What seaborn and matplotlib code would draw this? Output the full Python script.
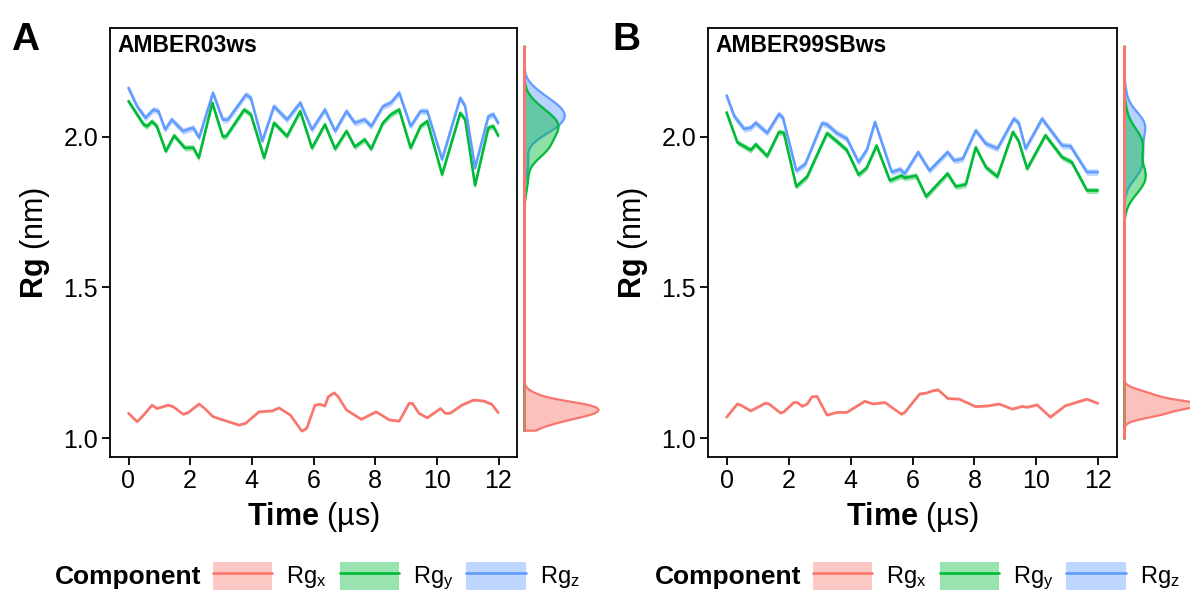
import numpy as np
import pandas as pd
import matplotlib
matplotlib.use("Agg")
import matplotlib.pyplot as plt
import seaborn as sns
from matplotlib.patches import Patch
from matplotlib.lines import Line2D

# ---------------- data ----------------
components = ["Rg$_\\mathregular{x}$", "Rg$_\\mathregular{y}$", "Rg$_\\mathregular{z}$"]
panel_titles = ["AMBER03ws", "AMBER99SBws"]
panel_letters = ["A", "B"]
x_ticks = [0, 2, 4, 6, 8, 10, 12]
y_ticks = [1.0, 1.5, 2.0]

# Panel A (AMBER03ws)
tA_x = [0, 0.28, 0.49, 0.76, 0.92, 1.29, 1.45, 1.77, 1.93, 2.29, 2.47, 2.74, 3.06, 3.59, 3.80,
        4.23, 4.66, 4.88, 5.25, 5.62, 5.78, 6.05, 6.21, 6.37, 6.48, 6.67, 6.80, 7.07, 7.55, 8.03,
        8.46, 8.78, 9.10, 9.21, 9.42, 9.69, 10.12, 10.27, 10.43, 10.81, 11.19, 11.51, 11.78, 11.99]
vA_x = [1.082, 1.054, 1.076, 1.109, 1.098, 1.109, 1.104, 1.079, 1.084, 1.113, 1.098, 1.071, 1.060,
        1.043, 1.049, 1.087, 1.090, 1.100, 1.076, 1.023, 1.032, 1.109, 1.112, 1.106, 1.137, 1.150,
        1.137, 1.093, 1.062, 1.087, 1.060, 1.056, 1.115, 1.115, 1.082, 1.067, 1.098, 1.082, 1.082,
        1.109, 1.126, 1.123, 1.112, 1.084]
tA_y = [0, 0.49, 0.60, 0.76, 0.92, 1.21, 1.48, 1.83, 2.10, 2.28, 2.72, 3.06, 3.17, 3.75, 3.97,
        4.40, 4.72, 5.14, 5.57, 5.95, 6.37, 6.70, 7.07, 7.34, 7.66, 7.87, 8.25, 8.51, 8.78, 9.15,
        9.47, 9.69, 10.17, 10.76, 10.92, 11.24, 11.67, 11.83, 11.99]
vA_y = [2.117, 2.040, 2.034, 2.050, 2.034, 1.951, 2.003, 1.962, 1.963, 1.929, 2.112, 1.999, 2.001,
        2.089, 2.073, 1.929, 2.045, 2.001, 2.084, 1.962, 2.040, 1.959, 2.018, 1.966, 1.990, 1.959,
        2.045, 2.073, 2.089, 1.962, 2.034, 2.051, 1.874, 2.078, 2.056, 1.838, 2.029, 2.034, 2.003]
tA_z = [0, 0.28, 0.55, 0.81, 0.97, 1.19, 1.40, 1.77, 2.10, 2.29, 2.74, 3.06, 3.22, 3.81, 3.97,
        4.34, 4.72, 5.14, 5.57, 5.95, 6.37, 6.70, 7.07, 7.34, 7.66, 7.87, 8.25, 8.51, 8.78, 9.15,
        9.47, 9.69, 10.17, 10.76, 10.92, 11.24, 11.67, 11.83, 11.99]
vA_z = [2.161, 2.100, 2.062, 2.089, 2.084, 2.023, 2.056, 2.018, 2.029, 1.996, 2.145, 2.056, 2.056,
        2.139, 2.128, 1.985, 2.100, 2.056, 2.112, 2.023, 2.089, 2.018, 2.084, 2.045, 2.056, 2.034,
        2.100, 2.112, 2.145, 2.034, 2.084, 2.084, 1.924, 2.128, 2.100, 1.896, 2.067, 2.073, 2.045]

# Panel B (AMBER99SBws)
tB_x = [0, 0.35, 0.46, 0.78, 1.26, 1.37, 1.74, 1.85, 2.17, 2.28, 2.44, 2.60, 2.76, 2.92, 3.24,
        3.56, 3.88, 4.46, 4.73, 5.11, 5.64, 5.75, 6.23, 6.44, 6.66, 6.82, 6.98, 7.14, 7.51, 8.04,
        8.47, 8.79, 9.22, 9.54, 9.70, 10.02, 10.45, 10.93, 11.63, 11.98]
vB_x = [1.069, 1.113, 1.109, 1.090, 1.116, 1.113, 1.083, 1.087, 1.118, 1.118, 1.105, 1.113, 1.137,
        1.138, 1.076, 1.085, 1.085, 1.122, 1.113, 1.118, 1.079, 1.085, 1.146, 1.149, 1.157, 1.160,
        1.146, 1.131, 1.129, 1.104, 1.107, 1.113, 1.096, 1.105, 1.102, 1.110, 1.069, 1.107, 1.129,
        1.115]
tB_y = [0, 0.35, 0.78, 0.94, 1.31, 1.69, 1.85, 2.25, 2.60, 3.24, 3.56, 3.88, 4.26, 4.52, 4.84,
        5.27, 5.64, 5.75, 6.12, 6.44, 7.13, 7.40, 7.72, 8.04, 8.37, 8.74, 9.24, 9.43, 9.70, 10.29,
        10.83, 11.14, 11.63, 11.98]
vB_y = [2.080, 1.980, 1.955, 1.974, 1.935, 2.015, 2.012, 1.834, 1.867, 2.011, 1.984, 1.955, 1.873,
        1.896, 1.970, 1.854, 1.870, 1.863, 1.870, 1.801, 1.877, 1.834, 1.841, 1.964, 1.898, 1.867,
        2.015, 1.984, 1.893, 2.004, 1.931, 1.915, 1.821, 1.821]
tB_z = [0, 0.25, 0.57, 0.78, 0.94, 1.31, 1.69, 1.82, 2.25, 2.54, 3.08, 3.24, 3.56, 3.88, 4.26,
        4.53, 4.79, 5.33, 5.60, 5.75, 6.18, 6.55, 7.13, 7.35, 7.62, 8.04, 8.37, 8.74, 9.27, 9.43,
        9.65, 10.18, 10.83, 11.10, 11.63, 11.98]
vB_z = [2.136, 2.067, 2.025, 2.029, 2.045, 2.012, 2.075, 2.062, 1.887, 1.909, 2.044, 2.040, 2.011,
        1.993, 1.915, 1.957, 2.048, 1.882, 1.891, 1.877, 1.948, 1.887, 1.948, 1.920, 1.926, 2.020,
        1.976, 1.960, 2.059, 2.045, 1.960, 2.059, 1.970, 1.968, 1.882, 1.882]

# ribbon half-widths (confidence band) per component
ribbon_half = [0.004, 0.010, 0.011]
# range of the marginal density support per panel
density_range = [(1.026, 2.30), (1.0, 2.30)]

colors = ["#F8766D", "#00BA38", "#619CFF"]

panels = [
    [(tA_x, vA_x), (tA_y, vA_y), (tA_z, vA_z)],
    [(tB_x, vB_x), (tB_y, vB_y), (tB_z, vB_z)],
]

# ---------------- style ----------------
sns.set_theme(style="white")
plt.rcParams["font.family"] = ["Liberation Sans", "DejaVu Sans"]
plt.rcParams["mathtext.fontset"] = "custom"
plt.rcParams["mathtext.rm"] = "Liberation Sans"
plt.rcParams["mathtext.bf"] = "Liberation Sans:bold"
plt.rcParams["mathtext.it"] = "Liberation Sans:italic"
plt.rcParams["text.color"] = "black"
plt.rcParams["axes.labelcolor"] = "black"

W, H = 1190, 594
fig = plt.figure(figsize=(W / 100, H / 100), dpi=100)

def fr(x0, y_top, w, h):
    return [x0 / W, 1 - (y_top + h) / H, w / W, h / H]

main_rects = [fr(110, 28, 407, 429), fr(708, 28, 409, 429)]
marg_rects = [fr(519, 28, 80, 429), fr(1119, 28, 71, 429)]
marg_peak_px = [(5, 74), (5, 76)]  # baseline offset, peak extent in px
marg_width_px = [80, 71]
ylim = (0.937, 2.36)
xlim = (-0.6, 12.6)

for p in range(2):
    ax = fig.add_axes(main_rects[p])
    rows = []
    for ci, (t, v) in enumerate(panels[p]):
        df = pd.DataFrame({"Time": t, "Rg": v, "Component": components[ci]})
        rows.append(df)
        ax.fill_between(df["Time"], df["Rg"] - ribbon_half[ci], df["Rg"] + ribbon_half[ci],
                        color=colors[ci], alpha=0.4, linewidth=0)
    data = pd.concat(rows, ignore_index=True)
    sns.lineplot(data=data, x="Time", y="Rg", hue="Component", hue_order=components,
                 palette=colors, linewidth=1.9, legend=False, ax=ax, sort=True,
                 estimator=None)
    ax.set_xlim(*xlim)
    ax.set_ylim(*ylim)
    ax.set_xticks(x_ticks)
    ax.set_yticks(y_ticks)
    ax.set_xticklabels([str(x) for x in x_ticks])
    ax.set_yticklabels([f"{y:.1f}" for y in y_ticks])
    for s in ax.spines.values():
        s.set_visible(True)
        s.set_color("black")
        s.set_linewidth(1.3)
    ax.tick_params(axis="both", which="both", direction="out", length=5.5, width=1.3,
                   color="black", labelsize=18, labelcolor="black", pad=3,
                   bottom=True, left=True, top=False, right=False)
    ax.set_xlabel("$\\mathbf{Time}$ (µs)", fontsize=22, color="black", labelpad=5)
    ax.set_ylabel("$\\mathbf{Rg}$ (nm)", fontsize=22, color="black", labelpad=8)
    ax.grid(False)
    ax.text(0.018, 0.985, panel_titles[p], transform=ax.transAxes, ha="left", va="top",
            fontsize=16.5, fontweight="bold", color="black")

    # marginal density
    axm = fig.add_axes(marg_rects[p], sharey=ax)
    sns.kdeplot(data=data, y="Rg", hue="Component", hue_order=components, palette=colors,
                fill=True, common_norm=False, common_grid=True, cut=3,
                clip=density_range[p], alpha=0.45,
                linewidth=1.6, legend=False, ax=axm, bw_adjust=1.1)
    peak = axm.dataLim.x1
    off, ext = marg_peak_px[p]
    wpx = marg_width_px[p]
    axm.set_xlim(-off / ext * peak, (wpx - off) / ext * peak)
    axm.set_ylim(*ylim)
    axm.axis("off")

# panel letters
fig.text(11 / W, 1 - 50 / H, panel_letters[0], fontsize=28, fontweight="bold", ha="left", va="baseline")
fig.text(612 / W, 1 - 50 / H, panel_letters[1], fontsize=28, fontweight="bold", ha="left", va="baseline")

# legends
handles = [(Patch(facecolor=c, alpha=0.4, edgecolor="none"), Line2D([], [], color=c, linewidth=1.9))
           for c in colors]
legend_x = [55, 655]
for p in range(2):
    fig.text(legend_x[p] / W, 1 - 577 / H, "Component", fontsize=19, fontweight="bold",
             ha="left", va="center")
    fig.legend(handles=handles, labels=components, loc="center left",
               bbox_to_anchor=((legend_x[p] + 158) / W, 1 - 577 / H), ncol=3, frameon=False,
               fontsize=17, handlelength=2.5, handleheight=1.45, handletextpad=0.6,
               columnspacing=0.55, borderpad=0, borderaxespad=0)

fig.savefig("out.png", dpi=100)
